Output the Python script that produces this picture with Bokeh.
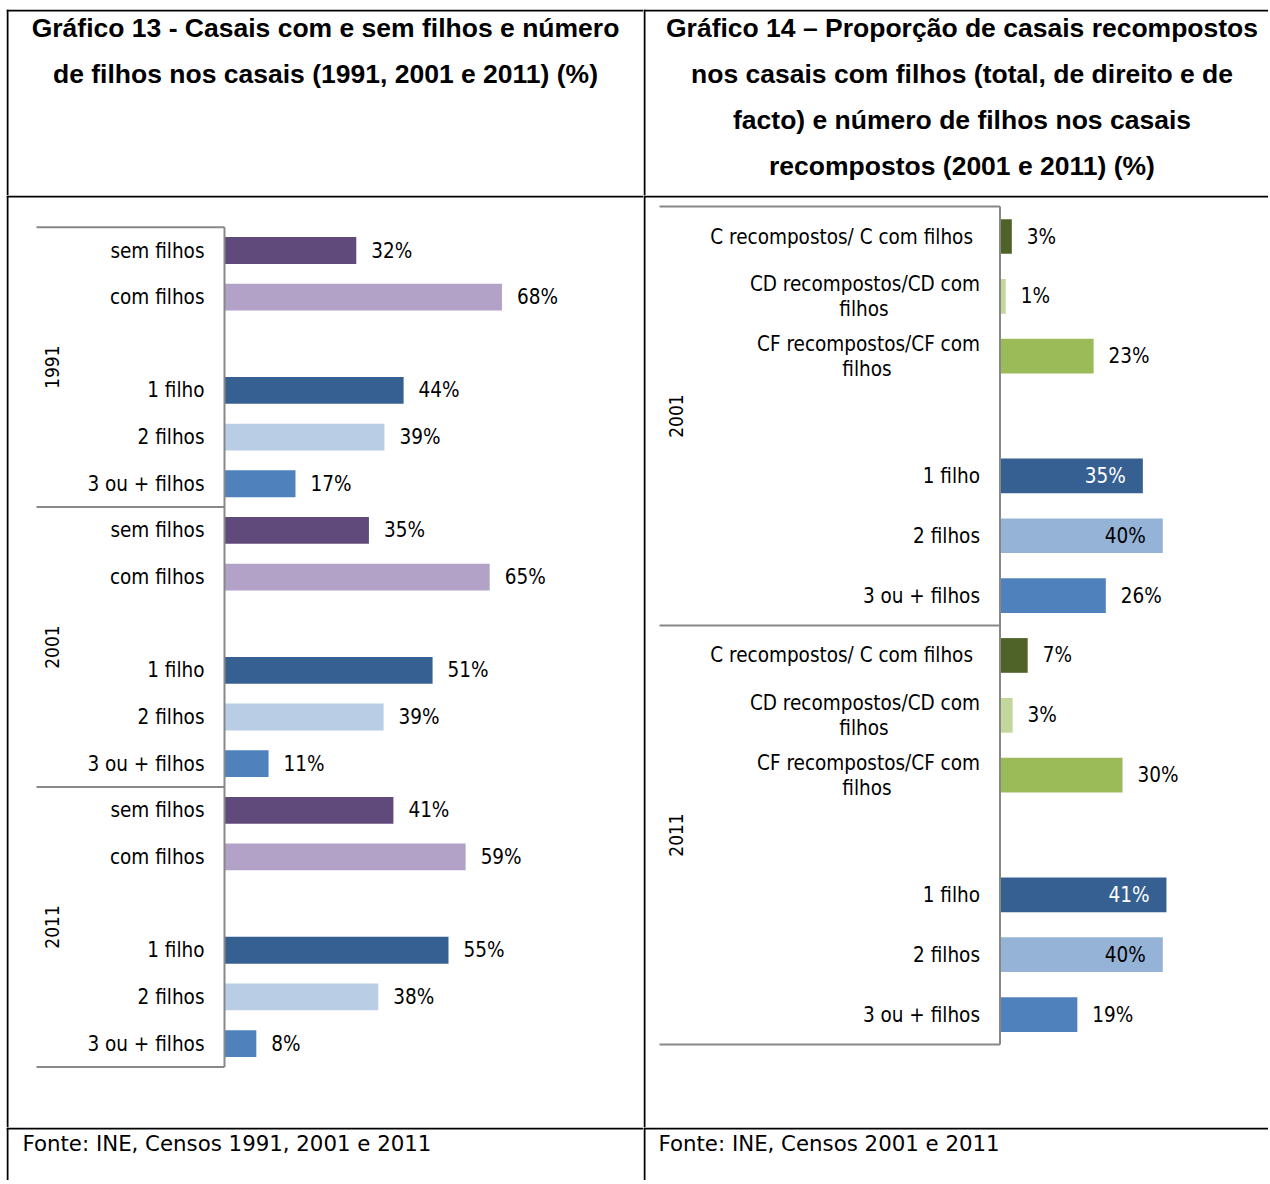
import math
from bokeh.plotting import figure
from bokeh.models import ColumnDataSource, Range1d, Span, Label, Spacer
from bokeh.layouts import row, column
from bokeh.core.properties import value
from bokeh.embed import file_html
from bokeh.resources import INLINE

# ---------------- data: Gráfico 13 ----------------
g13_title = ["Gráfico 13 - Casais com e sem filhos e número",
             "de filhos nos casais (1991, 2001 e 2011) (%)"]
g13_source = "Fonte: INE, Censos 1991, 2001 e 2011"
g13_years = ["1991", "2001", "2011"]
g13_categories = ["sem filhos", "com filhos", "1 filho", "2 filhos", "3 ou + filhos"]
g13_1991 = [32.3, 68.0, 43.9, 39.2, 17.4]
g13_2001 = [35.4, 65.0, 51.0, 39.0, 10.8]
g13_2011 = [41.4, 59.1, 54.9, 37.7, 7.8]
g13_colors = ["#604A7B", "#B3A2C7", "#376092", "#B9CDE5", "#4F81BD"]

# ---------------- data: Gráfico 14 ----------------
g14_title = ["Gráfico 14 \u2013 Proporção de casais recompostos",
             "nos casais com filhos (total, de direito e de",
             "facto) e número de filhos nos casais",
             "recompostos (2001 e 2011) (%)"]
g14_source = "Fonte: INE, Censos 2001 e 2011"
g14_years = ["2001", "2011"]
g14_categories = ["C recompostos/ C com filhos", "CD recompostos/CD com\nfilhos",
                  "CF recompostos/CF com\nfilhos", "1 filho", "2 filhos", "3 ou + filhos"]
g14_2001 = [2.9, 1.4, 23.0, 35.1, 40.0, 26.0]
g14_2011 = [6.8, 3.1, 30.1, 40.9, 40.0, 19.0]
g14_colors = ["#4F6228", "#C3D69B", "#9BBB59", "#376092", "#95B3D7", "#4F81BD"]

# ---------------- styling / layout ----------------
BODY_FONT = "DejaVu Sans Condensed, DejaVu Sans"
FOOT_FONT = "DejaVu Sans"
TITLE_FONT = "Liberation Sans"
LBL_SIZE = "20.5px"
GRID_COLOR = "#888888"

PAD_L, PAD_T = 6, 9        # offset of the table from the page corner
LW, RW = 637, 625          # column widths
HH, CH, FH = 186, 932, 53  # header / chart / footer heights


def base_fig(w, h, xr, yr):
    return figure(width=w, height=h, x_range=xr, y_range=yr,
                  x_axis_type=None, y_axis_type=None, toolbar_location=None,
                  output_backend="svg", min_border=0, outline_line_color=None,
                  background_fill_color="white", border_fill_color="white")


def px_x(rng, w, px):
    return rng.start + (rng.end - rng.start) * px / w


def px_y(rng, h, px):
    # px measured from the top of the canvas
    return rng.end + (rng.start - rng.end) * px / h


def borders(p, w, h, left=None, top=None):
    xr, yr = p.x_range, p.y_range
    if left is not None:
        p.add_layout(Span(location=px_x(xr, w, left), dimension="height",
                          line_color="black", line_width=2))
    if top is not None:
        p.add_layout(Span(location=px_y(yr, h, top), dimension="width",
                          line_color="black", line_width=2))


def header(w, lines, cx, y0, dy):
    p = base_fig(w, HH, Range1d(0, w), Range1d(HH, 0))
    for i, t in enumerate(lines):
        p.add_layout(Label(x=cx, y=y0 + i * dy, text=t, text_font=TITLE_FONT,
                           text_font_style="bold", text_font_size="26.5px",
                           text_align="center", text_baseline="middle",
                           text_color="black"))
    borders(p, w, HH, left=1, top=1)
    return p


def footer(w, text, x):
    p = base_fig(w, FH, Range1d(0, w), Range1d(FH, 0))
    p.add_layout(Label(x=x, y=16, text=text, text_font=FOOT_FONT,
                       text_font_size="21.3px", text_align="left",
                       text_baseline="middle", text_color="black"))
    borders(p, w, FH, left=1, top=1)
    return p


def chart(w, years, cats, values, colors, axis_px, ppp, slot0_px, pitch,
          gap_index, bar_frac, inside, inside_colors, cat_xoff, year_xoff,
          sep_px):
    per = len(cats) + 1
    xr = Range1d(-axis_px / ppp, (w - axis_px) / ppp)
    yr = Range1d((CH - slot0_px) / pitch, -slot0_px / pitch)
    p = base_fig(w, CH, xr, yr)

    bar = dict(y=[], v=[], c=[])
    vout = dict(x=[], y=[], t=[])
    vin = dict(x=[], y=[], t=[], c=[])
    c1 = dict(y=[], t=[], xo=[], yo=[])
    c2 = dict(y=[], t=[], xo=[])
    for g, yr_name in enumerate(years):
        for i, cat in enumerate(cats):
            slot = g * per + i + (1 if i >= gap_index else 0)
            v = values[g][i]
            bar["y"].append(slot); bar["v"].append(v); bar["c"].append(colors[i])
            lab = f"{round(v)}%"
            if inside[i]:
                vin["x"].append(v); vin["y"].append(slot); vin["t"].append(lab)
                vin["c"].append(inside_colors[i])
            else:
                vout["x"].append(v); vout["y"].append(slot); vout["t"].append(lab)
            parts = cat.split("\n")
            c1["y"].append(slot); c1["t"].append(parts[0])
            c1["xo"].append(cat_xoff[i][0])
            c1["yo"].append(-12.5 if len(parts) > 1 else 0)
            if len(parts) > 1:
                c2["y"].append(slot); c2["t"].append(parts[1])
                c2["xo"].append(cat_xoff[i][1])

    p.hbar(y="y", left=0, right="v", height=bar_frac, fill_color="c",
           line_color=None, source=ColumnDataSource(bar))

    common = dict(text_font=value(BODY_FONT), text_font_size=value(LBL_SIZE),
                  text_baseline="middle")
    p.text(x="x", y="y", text="t", x_offset=15, text_align="left",
           text_color="black", source=ColumnDataSource(vout), **common)
    if vin["x"]:
        p.text(x="x", y="y", text="t", x_offset=-17, text_align="right",
               text_color="c", source=ColumnDataSource(vin), **common)
    p.text(x=0, y="y", text="t", x_offset="xo", y_offset="yo", text_align="right",
           text_color="black", source=ColumnDataSource(c1), **common)
    if c2["y"]:
        p.text(x=0, y="y", text="t", x_offset="xo", y_offset=12.5,
               text_align="center", text_color="black",
               source=ColumnDataSource(c2), **common)

    # group (year) labels
    centers = [g * per + (per - 1) / 2 for g in range(len(years))]
    p.text(x=0, y=centers, text=years, x_offset=year_xoff, angle=math.pi / 2,
           text_align="center", text_color="black",
           text_font=value(BODY_FONT), text_font_size=value("19px"),
           text_baseline="middle")

    # category axis: separators + axis line
    bnds = [g * per - 0.5 for g in range(len(years) + 1)]
    sx = -sep_px / ppp
    p.segment(x0=[sx] * len(bnds), x1=[0] * len(bnds), y0=bnds, y1=bnds,
              line_color=GRID_COLOR, line_width=2)
    p.segment(x0=[0], x1=[0], y0=[bnds[0]], y1=[bnds[-1]],
              line_color=GRID_COLOR, line_width=2)

    borders(p, w, CH, left=1, top=1)
    return p


h13 = header(LW, g13_title, 319, 18.5, 46)
h14 = header(RW, g14_title, 318.5, 18.5, 46)

c13 = chart(LW, g13_years, g13_categories, [g13_1991, g13_2001, g13_2011],
            g13_colors, axis_px=218, ppp=4.08, slot0_px=55, pitch=46.65,
            gap_index=2, bar_frac=0.575, inside=[False] * 5,
            inside_colors=[None] * 5, cat_xoff=[(-20, 0)] * 5,
            year_xoff=-173, sep_px=188)

c14 = chart(RW, g14_years, g14_categories, [g14_2001, g14_2011],
            g14_colors, axis_px=356.5, ppp=4.07, slot0_px=41, pitch=59.85,
            gap_index=3, bar_frac=0.58,
            inside=[False, False, False, True, True, False],
            inside_colors=[None, None, None, "white", "black", None],
            cat_xoff=[(-27, 0), (-20, -136), (-20, -133), (-20, 0), (-20, 0), (-20, 0)],
            year_xoff=-324.5, sep_px=340.5)

f13 = footer(LW, g13_source, 16)
f14 = footer(RW, g14_source, 15)

table = row(column(h13, c13, f13), column(h14, c14, f14))
total_h = HH + CH + FH
layout = column(Spacer(width=PAD_L + LW + RW, height=PAD_T),
                row(Spacer(width=PAD_L, height=total_h), table))

open("out.html", "w").write(file_html(layout, INLINE))
